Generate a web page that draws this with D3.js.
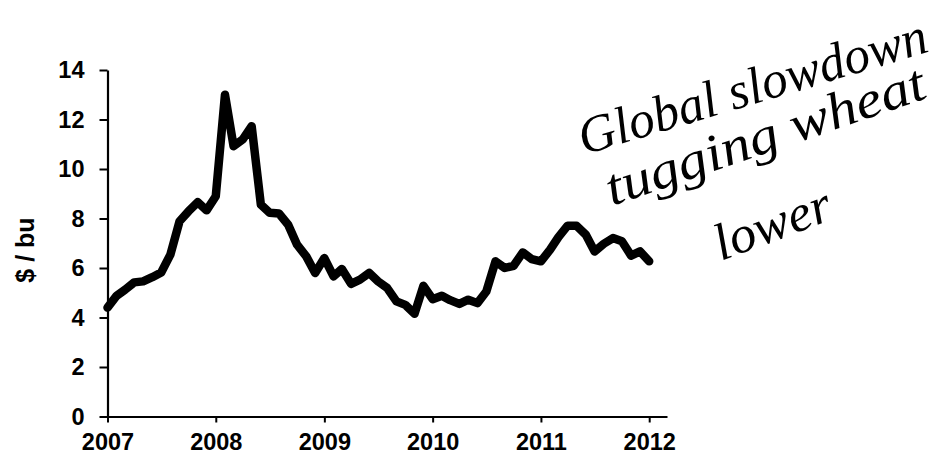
<!DOCTYPE html>
<html>
<head>
<meta charset="utf-8">
<script src="https://cdn.jsdelivr.net/npm/d3@7"></script>
<style>
body { margin:0; background:#fff; }
svg text { font-family: "Liberation Sans", Arial, sans-serif; }
</style>
</head>
<body>
<svg width="939" height="461"></svg>
<script>
// monthly wheat price, Jan 2007 .. Jan 2012 ($/bu)
var startMonth = new Date(2007, 0, 1);
var prices = [
	4.40, 4.88, 5.12, 5.42, 5.46, 5.63, 5.82, 6.54, 7.89, 8.29, 8.66, 8.33,
	8.90, 13.00, 10.92, 11.20, 11.73, 8.56, 8.23, 8.20, 7.75, 6.94, 6.47, 5.80,
	6.40, 5.66, 5.96, 5.36, 5.53, 5.80, 5.46, 5.19, 4.65, 4.51, 4.15, 5.28,
	4.74, 4.88, 4.70, 4.55, 4.72, 4.58, 5.05, 6.27, 6.00, 6.09, 6.63, 6.36,
	6.27, 6.74, 7.25, 7.71, 7.71, 7.35, 6.67, 6.98, 7.21, 7.08, 6.50, 6.67,
	6.27
];
var yearTicks = [2007, 2008, 2009, 2010, 2011, 2012];
var priceTicks = [0, 2, 4, 6, 8, 10, 12, 14];
var yTitle = "$ / bu";
var noteLines = ["Global slowdown", "tugging wheat", "lower"];

var svg = d3.select("svg");

var data = prices.map(function(p, i) {
	return { date: d3.timeMonth.offset(startMonth, i), price: p };
});

var scalex = d3.scaleTime()
	.domain([new Date(2007, 0, 1), new Date(2012, 2, 1)])
	.range([107.5, 667]);

var scaley = d3.scaleLinear()
	.domain([0, 14])
	.range([416.5, 70]);

// axes
var xaxis = d3.axisBottom(scalex)
	.tickValues(yearTicks.map(function(y) { return new Date(y, 0, 1); }))
	.tickFormat(d3.timeFormat("%Y"))
	.tickSize(6)
	.tickSizeOuter(0)
	.tickPadding(11);

var yaxis = d3.axisLeft(scaley)
	.tickValues(priceTicks)
	.tickSize(8)
	.tickSizeOuter(0)
	.tickPadding(15);

var gx = svg.append("g")
	.attr("transform", "translate(0,416.5)")
	.call(xaxis);

var gy = svg.append("g")
	.attr("transform", "translate(107.5,0)")
	.call(yaxis);

[gx, gy].forEach(function(g) {
	g.select(".domain").attr("stroke", "#000").attr("stroke-width", 2.2);
	g.selectAll(".tick line").attr("stroke", "#000").attr("stroke-width", 2);
	g.selectAll("text")
		.attr("fill", "#000")
		.style("font-size", "23.5px")
		.style("font-weight", "bold");
});

svg.append("text")
	.attr("transform", "translate(25,250) rotate(-90)")
	.attr("text-anchor", "middle")
	.attr("dominant-baseline", "central")
	.style("font-size", "25px")
	.style("font-weight", "bold")
	.text(yTitle);

// the price line
var line = d3.line()
	.x(function(d) { return scalex(d.date); })
	.y(function(d) { return scaley(d.price); });

svg.append("path")
	.datum(data)
	.attr("d", line)
	.attr("fill", "none")
	.attr("stroke", "#000")
	.attr("stroke-width", 8.5)
	.attr("stroke-linejoin", "round")
	.attr("stroke-linecap", "round");

// handwritten note
var notePos = [
	{ x: 584, y: 155, angle: -16.7, len: 362 },
	{ x: 612, y: 206, angle: -18.9, len: 335 },
	{ x: 721, y: 261, angle: -20.5, len: 122 }
];

svg.selectAll(".note")
	.data(noteLines)
	.enter()
	.append("text")
	.attr("class", "note")
	.attr("transform", function(d, i) {
		return "translate(" + notePos[i].x + "," + notePos[i].y + ") rotate(" + notePos[i].angle + ")";
	})
	.attr("textLength", function(d, i) { return notePos[i].len; })
	.attr("lengthAdjust", "spacingAndGlyphs")
	.style("font-family", "'Liberation Serif', serif")
	.style("font-style", "italic")
	.style("font-size", "52px")
	.attr("fill", "#000")
	.text(function(d) { return d; });
</script>
</body>
</html>
